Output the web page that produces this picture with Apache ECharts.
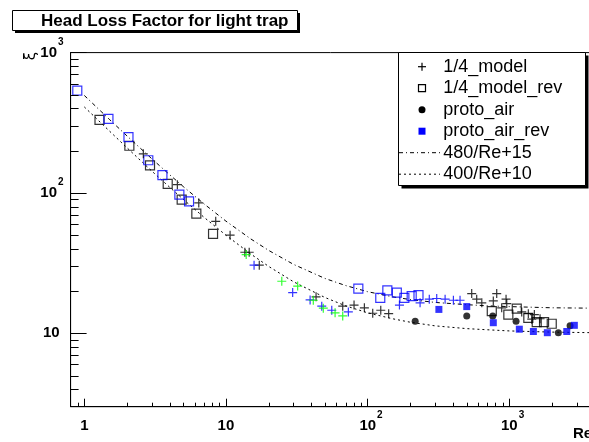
<!DOCTYPE html>
<html><head><meta charset="utf-8">
<script src="https://cdn.jsdelivr.net/npm/echarts@6/dist/echarts.min.js"></script>
<style>html,body{margin:0;padding:0;background:#fff}#c{width:589px;height:442px}</style>
</head><body><div id="c"></div>
<script>
// ---- data: [Re, xi] ----
const model_black = [[2.61,190],[4.54,114.5],[6.43,84.9],[8.47,62.8],[10.7,50.0],
  [13.6,37.8],[14.6,37.8],[17.2,30.6],[43.3,18.2],[66.8,15.6],[80.3,15.9],[95.0,15.2],
  [108.8,13.9],[124,14.6],[141,13.8],[544,19.2],[590,17.5],[641,16.5],[773,17.0],[817,19.2],
  [886,15.2],[951,17.5],[962,16.3],[1227,14.2],[1366,13.8],[1444,12.6],[1507,13.6],[1653,12.7]];
const model_blue = [[15.8,30.6],[29.6,19.5],[39.3,17.3],[47.5,15.6],[55.9,14.6],[73.2,14.2],
  [168,15.9],[235,16.5],[273,17.5],[308,17.7],[353,17.5],[404,17.2],[450,17.2]];
const model_green = [[13.9,36.4],[24.8,23.5],[32.1,21.7],[41.4,17.2],[48.7,15.1],[59.0,14.0],[66.8,13.3]];
const model_rev_black = [[1.28,332],[2.08,217],[2.91,157],[3.88,116],[4.87,89.6],[6.18,71.3],[8.11,51.1],
  [754,14.4],[987,13.6],[1132,15.0],[1366,12.9],[1566,12.0],[1764,12.0],[1999,11.7]];
const model_rev_blue = [[0.892,536],[1.48,337],[2.05,250],[2.83,171],[3.56,134],[4.69,97.2],[5.49,87.1],
  [86.1,20.8],[123,17.9],[138,20.2],[161,19.5],[182,17.9],[205,18.4],[229,18.7]];
const proto_air = [[217,12.2],[502,13.3],[766,13.3],[1119,12.2],[2226,10.1],[2693,11.3]];
const proto_air_rev = [[319,14.8],[502,15.5],[773,11.9],[1180,10.7],[1483,10.3],[1861,10.1],[2552,10.3],[2887,11.4]];
// points sampled along the two drawn curves
const curve480 = [[1,495],[1.5,335],[2,255],[3,175],[4,135],[5,111],[7,83.6],[10,63],[15,47],[20,39],
  [30,31],[50,24.6],[70,21.9],[100,19.8],[150,18.2],[200,17.4],[300,16.6],[500,16],[700,15.7],
  [1000,15.5],[2000,15.2],[4000,15.1]];
const curve400 = [[1,410],[1.5,277],[2,210],[3,143],[4,110],[5,90],[7,67.1],[10,50],[15,36.7],[20,30],
  [30,23.3],[50,18],[70,15.7],[100,14],[150,12.7],[200,12],[300,11.3],[500,10.8],[700,10.6],
  [1000,10.4],[2000,10.2],[4000,10.1]];
const xMinorTicks = [0.9,2,3,4,5,6,7,8,9,20,30,40,50,60,70,80,90,200,300,400,500,600,700,800,900,2000,3000];
const yMinorTicks = [4,5,6,7,8,9,20,30,40,50,60,70,80,90,200,300,400,500,600,700,800,900];
const legendNames = ['1/4_model','1/4_model_rev','proto_air','proto_air_rev','480/Re+15','400/Re+10'];
const titleText = 'Head Loss Factor for light trap';
const X_MIN = 0.8, X_MAX = 4000, Y_MIN = 3, Y_MAX = 1000;

const FONT = 'Liberation Sans';
const rich = {
  p: {width: 7, lineHeight: 31},
  q: {width: 4, lineHeight: 31},
  n: {fontSize: 15, fontWeight: 'bold', fontFamily: FONT, color: '#000', lineHeight: 31, verticalAlign: 'middle'},
  s: {fontSize: 10, fontWeight: 'bold', fontFamily: FONT, color: '#000', lineHeight: 10, verticalAlign: 'top', padding: [0,0,0,1]}
};
function fmt(isX) {
  return function (v) {
    const e = Math.round(Math.log10(v));
    if (e <= 0) return '{n|1}' + (isX ? '' : '{q|}');
    if (e === 1) return '{n|10}' + (isX ? '' : '{q|}');
    return (isX ? '{p|}' : '') + '{n|10}{s|' + e + '}';
  };
}
const PLUS = 'path://M0,5L10,5M5,0L5,10';
function plusSeries(name, data, color) {
  return {name, type: 'scatter', data, symbol: PLUS, symbolSize: 9, silent: true, z: 4,
    itemStyle: {color: 'none', borderColor: color, borderWidth: 1.2}};
}
function openSq(name, data, color) {
  return {name, type: 'scatter', data, symbol: 'rect', symbolSize: 9, silent: true, z: 4,
    itemStyle: {color: 'rgba(0,0,0,0)', borderColor: color, borderWidth: 1.2}};
}
function tickSeries(values, isX) {
  return {type: 'custom', coordinateSystem: 'cartesian2d', silent: true, clip: false, z: 6,
    data: values.map(v => isX ? [v, Y_MIN] : [X_MIN, v]),
    renderItem: function (params, api) {
      const c = api.coord([api.value(0), api.value(1)]);
      if (isX) {
        const x = Math.round(c[0]) + 0.5;
        return {type: 'line', shape: {x1: x, y1: c[1], x2: x, y2: c[1] - 4}, style: {stroke: '#000', lineWidth: 1}};
      }
      const y = Math.round(c[1]) + 0.5;
      return {type: 'line', shape: {x1: c[0], y1: y, x2: c[0] + 8, y2: y}, style: {stroke: '#000', lineWidth: 1}};
    }};
}

const chart = echarts.init(document.getElementById('c'), null, {renderer: 'canvas'});
const rowsY = [66.7, 88.2, 109.7, 131.2, 152.7, 174.2];
const legendGraphics = [
  {type: 'rect', shape: {x: 401.5, y: 55.5, width: 187, height: 133}, style: {fill: '#000'}, z: 20},
  {type: 'rect', shape: {x: 398.5, y: 52.5, width: 187, height: 133}, style: {fill: '#fff', stroke: '#000', lineWidth: 1}, z: 21},
  {type: 'line', shape: {x1: 418, y1: rowsY[0], x2: 426, y2: rowsY[0]}, style: {stroke: '#000', lineWidth: 1.2}, z: 22},
  {type: 'line', shape: {x1: 422, y1: rowsY[0] - 4, x2: 422, y2: rowsY[0] + 4}, style: {stroke: '#000', lineWidth: 1.2}, z: 22},
  {type: 'rect', shape: {x: 418.5, y: rowsY[1] - 3.5, width: 7, height: 7}, style: {fill: 'none', stroke: '#000', lineWidth: 1.2}, z: 22},
  {type: 'circle', shape: {cx: 422, cy: rowsY[2], r: 3.5}, style: {fill: '#000'}, z: 22},
  {type: 'rect', shape: {x: 418.5, y: rowsY[3] - 3.5, width: 7, height: 7}, style: {fill: '#0000ff'}, z: 22},
  {type: 'line', shape: {x1: 399, y1: rowsY[4], x2: 440, y2: rowsY[4]}, style: {stroke: '#000', lineWidth: 1, lineDash: [4,3,1,3]}, z: 22},
  {type: 'line', shape: {x1: 399, y1: rowsY[5], x2: 440, y2: rowsY[5]}, style: {stroke: '#000', lineWidth: 1, lineDash: [2,3]}, z: 22}
];
legendNames.forEach((t, i) => legendGraphics.push({type: 'text', x: 443.3, y: rowsY[i], z: 22,
  style: {text: t, font: '18px "' + FONT + '"', fill: '#000', verticalAlign: 'middle', align: 'left'}}));

chart.setOption({
  animation: false,
  backgroundColor: '#fff',
  title: {text: titleText, left: 41, top: 12.5, padding: 0, z: 30,
    textStyle: {fontSize: 17, fontWeight: 'bold', fontFamily: FONT, color: '#000'}},
  grid: {left: 70.6, top: 52.6, width: 523.8, height: 354.1, show: true, borderColor: '#000', borderWidth: 1,
    backgroundColor: 'transparent', outerBoundsMode: 'none', containLabel: false},
  xAxis: {type: 'log', logBase: 10, min: X_MIN, max: X_MAX, splitNumber: 5,
    axisLine: {show: true, lineStyle: {color: '#000', width: 1}},
    axisTick: {show: true, inside: true, length: 8, lineStyle: {color: '#000', width: 1}},
    minorTick: {show: false}, splitLine: {show: false},
    axisLabel: {show: true, margin: 4, formatter: fmt(true), rich, showMinLabel: false, showMaxLabel: false, color: '#000'}},
  yAxis: {type: 'log', logBase: 10, min: Y_MIN, max: Y_MAX, splitNumber: 5,
    axisLine: {show: true, lineStyle: {color: '#000', width: 1}},
    axisTick: {show: true, inside: true, length: 16, lineStyle: {color: '#000', width: 1}},
    minorTick: {show: false}, splitLine: {show: false},
    axisLabel: {show: true, margin: 7, formatter: fmt(false), rich, showMinLabel: false, color: '#000'}},
  graphic: [
    {type: 'rect', shape: {x: 15, y: 13, width: 285, height: 20}, style: {fill: '#000'}, z: 1},
    {type: 'rect', shape: {x: 12.5, y: 10.5, width: 285, height: 20}, style: {fill: '#fff', stroke: '#000', lineWidth: 1}, z: 2},
    {type: 'text', x: 573, y: 434, z: 5, style: {text: 'Re', font: 'bold 15px "' + FONT + '"', fill: '#000', verticalAlign: 'middle', align: 'left'}},
    {type: 'text', x: 31, y: 56, rotation: Math.PI / 2, z: 5, style: {text: 'ξ', font: '15px "DejaVu Sans"', fill: '#000', verticalAlign: 'middle', align: 'center'}}
  ].concat(legendGraphics),
  series: [
    {name: '480/Re+15', type: 'line', data: curve480, symbol: 'none', silent: true, z: 2,
      lineStyle: {color: '#000', width: 1, type: [4,3,1,3]}},
    {name: '400/Re+10', type: 'line', data: curve400, symbol: 'none', silent: true, z: 2,
      lineStyle: {color: '#000', width: 1, type: [2,3]}},
    openSq('1/4_model_rev', model_rev_black, '#000'),
    openSq('1/4_model_rev (blue)', model_rev_blue, '#0000ff'),
    plusSeries('1/4_model', model_black, '#000'),
    plusSeries('1/4_model (blue)', model_blue, '#0000ff'),
    plusSeries('1/4_model (green)', model_green, '#00ff00'),
    {name: 'proto_air', type: 'scatter', data: proto_air, symbol: 'circle', symbolSize: 7, silent: true, z: 4,
      itemStyle: {color: '#000'}},
    {name: 'proto_air_rev', type: 'scatter', data: proto_air_rev, symbol: 'rect', symbolSize: 7, silent: true, z: 4,
      itemStyle: {color: '#0000ff'}},
    tickSeries(xMinorTicks, true),
    tickSeries(yMinorTicks, false)
  ]
});
</script></body></html>
